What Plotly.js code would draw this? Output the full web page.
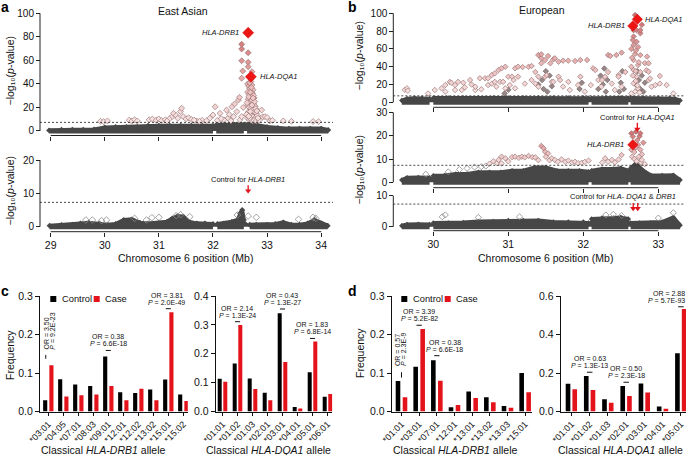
<!DOCTYPE html>
<html><head><meta charset="utf-8">
<script src="https://cdn.plot.ly/plotly-3.0.1.min.js"></script>
<style>html,body{margin:0;padding:0;background:#fff}#chart{width:689px;height:455px}</style>
</head><body><div id="chart"></div>
<script>
// ================= DATA =================
const THRESHOLD = 7.3; // genome-wide significance, -log10(5e-8)

// --- panel a (East Asian) ---
const aTopBandX = [28.97,29.2,29.4,29.6,29.8,30.0,30.2,30.4,30.6,30.8,31.0,31.2,31.4,31.6,31.8,32.0,32.03,32.06,32.2,32.4,32.57,32.6,32.63,32.8,33.0,33.2,33.4,33.6,33.8,34.0,34.13];
const aTopBandY = [0.5,1,1,1,1.2,3,3.4,3.4,3.4,4.5,4.5,4.5,4.5,4.5,4.5,4.5,null,5,5.4,5.4,5.4,null,5.4,5,3.4,2.5,2,2,2,2,0.8];
const aTopBandLow = [0,0,0,0,0,0,0,0,0,0,0,0,0,0,0,0,null,0,0,0,0,null,0,0,0,0,0,0,0,0,0];
const aTopPinkX = [29.92,29.98,30.05,30.45,30.5,30.55,30.6,30.82,30.88,30.95,31.0,31.05,31.12,31.2,31.25,31.27,31.32,31.35,31.4,31.42,31.45,31.5,31.55,31.6,31.7,31.8,31.94,32.0,32.04,32.13,32.2,32.25,32.28,32.35,32.38,32.4,32.44,32.47,32.49,32.5,32.53,32.53,32.53,32.53,32.53,32.55,32.56,32.65,32.65,32.65,32.72,
  32.64,32.66,32.68,32.7,32.72,32.74,32.64,32.67,32.7,32.73,32.76,32.65,32.69,32.72,32.75,32.78,32.64,32.67,32.7,32.73,32.76,32.8,32.65,32.68,32.71,32.74,32.78,32.82,32.64,32.67,32.7,32.73,32.76,32.8,
  32.85,32.9,32.92,32.96,33.0,33.05,33.1,33.3,33.45,33.85,33.95,
  32.63,32.66,32.69,32.71,32.75,32.77,32.79,32.81,32.83,32.62,32.66,32.69,32.72,32.74,32.68,32.7,31.15,31.65,31.75,31.88,32.08,32.15,32.3,32.33];
const aTopPinkY = [8.2,7.9,8.5,9.2,8.3,9.6,8.5,9.5,10.1,9.2,10.2,8.8,9.5,10.5,12.5,15,13.2,10.8,16.5,19.3,12.2,10.3,11.2,9.8,8.5,9,10.8,13.6,20.6,15,9.5,17.8,11,20.6,12.2,23,16.4,26.3,28.6,9.5,12.2,44.8,59.7,69.7,73.7,51,20,66.5,58.4,54.6,50.4,
  40,38,36,42,39,35,33,31,30,32,28,27,25,26,23,21,22,20,19,18,16,15,16,14,13,12,11,13,11,9.5,10,8.5,9,8.5,
  9,17.8,12,12.2,11.5,8.5,9,8.5,8.2,8,7.9,
  24,29,33,37,30,25,19,17,11,14,12.5,16.5,22,28,41,44,8.4,9.2,8.2,8.6,9,10.5,14,8.6];
const aTopHitX = [32.65,32.70];
const aTopHitY = [83.5,46.1];
const aTopHitGene = ['HLA-DRB1','HLA-DQA1'];

const aBotBandX = [28.98,29.2,29.4,29.55,29.7,29.9,30.05,30.2,30.35,30.5,30.65,30.8,31.0,31.15,31.25,31.35,31.45,31.55,31.7,31.85,32.0,32.04,32.08,32.2,32.35,32.45,32.5,32.54,32.57,32.61,32.68,32.8,33.0,33.15,33.3,33.45,33.6,33.75,33.88,34.0,34.12];
const aBotBandY = [0.3,0.5,0.6,1,1.2,1,0.6,0.8,2,2.2,1.2,1,1.2,1.5,2.5,3.2,3,1.5,1,1,0.8,null,0.8,1,1.5,2,4,5,2,null,0.6,0.6,0.6,0.8,1.3,0.6,0.6,1,2,1,0.3];
const aBotBandLow = [0,0,0,0,0,0,0,0,0,0,0,0,0,0,0,0,0,0,0,0,0,null,0,0,0,0,0,0,0,null,0,0,0,0,0,0,0,0,0,0,0];
const aBotOpenX = [29.65,29.77,29.94,30.03,30.55,30.77,30.87,31.0,31.32,31.4,31.57,32.45,32.65,32.8,33.58,33.85,33.9];
const aBotOpenY = [2,2,1.8,2,2.5,2,2.7,2.8,3.3,3.6,3,3.5,3.2,2.8,2.2,2.8,2.5];
const aBotControlX = [32.65];
const aBotControlText = 'Control for <i>HLA-DRB1</i>';

// --- panel b (European) ---
const bTopBandX = [29.58,29.65,29.75,29.85,29.95,29.98,30.0,30.2,30.4,30.6,30.8,31.0,31.2,31.4,31.6,31.8,32.0,32.07,32.09,32.11,32.3,32.5,32.6,32.615,32.63,32.8,33.0,33.15,33.22,33.29];
const bTopBandY = [2,4,4.5,4.5,4,null,5,5,5,5,5,5,5,5,5,5,5,4.5,null,4.5,5,5,4.5,null,5,5,4.5,4.5,4,2];
const bTopBandLow = [0,0,0,0,0,null,0,0,0,0,0,0,0,0,0,0,0,0,null,0,0,0,0,null,0,0,0,0,0,0];
const bTopPinkX = [29.62,29.65,29.66,29.93,30.02,30.11,30.16,30.16,30.22,30.24,30.29,30.29,30.33,30.38,30.4,30.42,30.49,30.51,30.56,30.56,30.62,30.64,30.69,30.73,30.73,30.78,30.78,30.82,30.82,30.84,30.87,30.89,30.91,30.93,30.96,30.96,31.0,31.02,31.05,31.07,31.09,31.09,31.13,31.13,31.19,31.22,31.27,31.31,31.31,31.36,31.36,31.4,31.4,31.4,31.44,31.44,31.44,31.49,31.49,31.51,31.53,31.56,31.58,31.6,31.62,31.6,31.67,31.67,31.69,31.73,31.73,31.8,31.8,31.82,31.89,31.93,31.96,31.96,32.02,32.05,32.1,32.13,32.16,32.2,32.24,32.25,32.29,32.33,32.33,32.36,32.38,32.42,32.44,32.47,32.47,32.51,32.51,32.56,
  32.69,32.67,32.71,32.76,32.67,32.71,32.67,32.69,32.76,32.67,32.73,32.67,32.71,32.67,32.73,32.69,32.64,32.64,32.66,32.7,32.72,32.64,32.75,32.78,32.76,32.7,32.73,32.66,32.74,32.7,32.65,
  32.76,32.82,32.85,32.87,32.84,32.87,32.87,32.89,32.91,32.96,33.02,33.02,33.11,33.2];
const bTopPinkY = [14,15.7,13,10,13.8,15.7,19.4,12,23,22,19.4,13.8,23,13.8,22,16.8,25,20,13.8,17.6,27,14.6,27,27,19.4,30.7,21,32.6,23,17.6,36.3,23,38.2,23,40,15.7,28.8,19.4,28.8,25,38.2,15.7,40,28.8,39.6,21,40,40.8,25,34,21,53.1,28.8,17.6,49.4,43.8,53.9,47.5,28.8,30.7,52,43.8,23,48.3,49.4,23,45.6,28.8,25,46.8,17.6,46.8,23,13.8,46.4,19.4,47.5,28.8,12,47.5,19.4,38.2,36.3,25,17.6,25,28.8,34,53.1,52,21,13.8,53.1,30.7,28.8,55.8,17.6,34,
  98,81,81,77.5,73.8,68,64.4,54.4,53,47.5,41.9,36.3,28.8,21.3,15.7,12,60,40,30,24,19,10,11,87,81,58,62,70,45,35,50,
  34,44,51.3,43.8,36,34.4,25,26.8,17.6,19.4,21,29.6,19.4,10];
const bTopDarkX = [30.95,31.0,31.4,31.45,31.47,31.5,31.52,31.55,31.58,31.95,31.98,32.2,32.23,32.26,32.28,32.3,32.32,32.48,32.5,32.52,32.54,32.7,32.72,32.74,32.76,32.78,32.8,32.82];
const bTopDarkY = [10,14,20,25,15,35,12,30,18,15,22,15,30,20,38,12,25,12,22,35,15,20,35,25,15,30,12,22];
const bTopHitX = [32.66,32.72];
const bTopHitY = [85.7,93.2];
const bTopHitGene = ['HLA-DRB1','HLA-DQA1'];

const bMidBandX = [29.58,29.65,29.8,29.95,29.98,30.0,30.15,30.3,30.45,30.6,30.75,30.9,31.05,31.2,31.35,31.5,31.65,31.8,31.95,32.07,32.09,32.11,32.25,32.4,32.5,32.6,32.615,32.63,32.7,32.8,32.9,33.05,33.2,33.29];
const bMidBandY = [1,2,2.1,2,null,2.8,2.9,3.6,3.6,4.3,4.3,4.3,5,5,6.4,6.4,5,5,5,4.5,null,5,5.7,5.7,6,5,null,6,8,5,3,2.9,3,1];
const bMidBandLow = [0,0,0,0,null,0,0,0,0,0,0,0,0,0,0,0,0,0,0,0,null,0,0,0,0,0,null,0,0,0,0,0,0,0];
const bMidPinkX = [30.75,30.8,30.85,30.87,30.91,30.91,30.96,31.0,31.05,31.09,31.14,31.18,31.22,31.27,31.32,31.36,31.4,31.44,31.47,31.49,31.5,31.53,31.55,31.58,31.62,31.66,31.71,31.76,31.8,31.85,31.89,31.93,31.98,32.02,32.07,32.25,32.29,32.33,32.38,32.42,32.47,32.51,
  32.64,32.66,32.7,32.72,32.75,32.76,32.64,32.68,32.7,32.73,32.76,32.78,32.65,32.68,32.71,32.74,32.77,32.78,32.82,32.8];
const bMidPinkY = [8,9,8.2,9.6,11,8.1,10.3,9,10.8,11,10.5,11,10.7,11.3,10.8,10.7,9.5,15.6,14.6,13.1,11,12.4,9.5,10.3,9.6,8.8,9.8,8.8,9.3,8.5,8.8,8.2,8.4,8.8,9.3,8.5,10.3,8.8,9.6,8.5,9.8,11.7,
  21,19.6,21.7,18.1,19.8,21,14,13,15,16,14,12,11,10,9,11,8.5,9.6,7.8,17];
const bMidOpenX = [29.9,30.2,30.35,30.45,30.55,30.64,30.7];
const bMidOpenY = [3.5,4.5,5.5,6,6.5,6.7,7];
const bMidHitX = [32.66];
const bMidHitY = [16.1];
const bMidHitGene = ['HLA-DRB1'];
const bMidControlX = [32.72];
const bMidControlText = 'Control for <i>HLA-DQA1</i>';

const bBotBandX = [29.58,29.65,29.8,29.95,29.98,30.0,30.2,30.4,30.6,30.8,31.0,31.2,31.4,31.6,31.8,32.0,32.07,32.09,32.11,32.25,32.4,32.5,32.6,32.615,32.63,32.75,32.9,33.05,33.2,33.29];
const bBotBandY = [0.3,0.7,0.8,0.7,null,1.2,1.2,1.4,1.7,1.7,2,2,2,1.5,1.5,1.5,1.2,null,2.5,2.8,2.8,3,2.5,null,1.2,1.2,1.2,1.5,3,0.5];
const bBotBandLow = [0,0,0,0,null,0,0,0,0,0,0,0,0,0,0,0,0,null,0,0,0,0,0,null,0,0,0,0,0,0];
const bBotOpenX = [30.12,30.16,30.6,31.15,32.3,32.4,32.51,33.0,33.2];
const bBotOpenY = [3.2,3.8,3,3.2,3.8,4,3.6,2.8,4.5];
const bBotControlX = [32.665,32.725];
const bBotControlText = 'Control for <i>HLA- DQA1</i> &amp; <i>DRB1</i>';

const aXTicks = [29,30,31,32,33,34];
const bXTicks = [30,31,32,33];

// --- panel c (East Asian alleles) ---
const cDrbCats = ['*03:01','*04:05','*07:01','*08:03','*09:01','*12:01','*12:02','*13:02','*15:01','*15:02'];
const cDrbControl = [0.029,0.084,0.070,0.066,0.143,0.050,0.048,0.057,0.083,0.044];
const cDrbCase = [0.120,0.039,0.042,0.044,0.066,0.029,0.059,0.029,0.258,0.027];
const cDqaCats = ['*01:01','*01:02','*01:03','*02:01','*03:01','*04:01','*05:01','*06:01'];
const cDqaControl = [0.113,0.166,0.114,0.065,0.340,0.016,0.136,0.051];
const cDqaCase = [0.103,0.300,0.078,0.039,0.171,0.010,0.242,0.061];
const cDrbOR = {'*03:01':['3.50','9.2E-23'],'*09:01':['0.38','6.6E-18'],'*15:01':['3.81','2.0E-49']};
const cDqaOR = {'*01:02':['2.14','1.3E-24'],'*03:01':['0.43','1.3E-27'],'*05:01':['1.83','6.8E-14']};

// --- panel d (European alleles) ---
const dDrbCats = ['*01:01','*03:01','*07:01','*12:01','*13:01','*13:02','*13:03','*15:01'];
const dDrbControl = [0.079,0.116,0.133,0.011,0.052,0.037,0.014,0.100];
const dDrbCase = [0.037,0.214,0.080,0.017,0.035,0.024,0.010,0.050];
const dDqaCats = ['*01:01','*01:02','*01:03','*02:01','*03:01','*04:01','*05:01'];
const dDqaControl = [0.144,0.185,0.064,0.133,0.145,0.026,0.303];
const dDqaCase = [0.116,0.112,0.045,0.081,0.099,0.014,0.533];
const dDrbOR = {'*01:01':['0.57','2.3E-9'],'*03:01':['3.39','5.2E-82'],'*07:01':['0.38','6.6E-18']};
const dDqaOR = {'*01:02':['0.63','1.3E-13'],'*02:01':['0.50','2.3E-18'],'*05:01':['2.88','5.7E-93']};

// ================= STYLE / LAYOUT =================
const W = 689, H = 455;
const fx = p => p / W;
const fy = p => 1 - p / H;
const FONT = 'Liberation Sans, Arial, Helvetica, DejaVu Sans, sans-serif';
const TXT = '#111';
const DARK = '#474747';
const RED = '#e3121b';
const PINK = [[0,'#f7e6e6'],[0.35,'#ecc0c0'],[1,'#cf6b6b']];

const traces = [];
const shapes = [];
const annotations = [];
const layout = {
  width: W, height: H, margin: {l:0, r:0, t:0, b:0},
  paper_bgcolor: '#fff', plot_bgcolor: 'rgba(0,0,0,0)',
  showlegend: false, barmode: 'overlay',
  font: {family: FONT, size: 10, color: TXT},
  shapes, annotations
};

function axName(n, c) { return n === 1 ? c : c + n; }
function axKey(n, c) { return n === 1 ? c + 'axis' : c + 'axis' + n; }

function note(text, px, py, o) {
  return Object.assign({xref:'paper', yref:'paper', x: fx(px), y: fy(py), text, showarrow:false,
    font:{family:FONT, size:10, color:TXT}, xanchor:'center', yanchor:'middle'}, o || {});
}

// Manhattan panel
function manhattan(n, cfg, d) {
  const xa = axName(n,'x'), ya = axName(n,'y');
  const ppu = (cfg.yDom[0] - cfg.yDom[1]) / (cfg.yRange[1] - cfg.yRange[0]); // px per y unit
  layout[axKey(n,'x')] = {domain:[fx(cfg.xDom[0]), fx(cfg.xDom[1])], range: cfg.xRange, anchor:'free',
    position: fy(cfg.xLinePy), showline:false, showgrid:false, zeroline:false, ticks:'outside', ticklen:4,
    tickwidth:1, tickcolor:'#222', tickvals: cfg.xTicks, showticklabels: cfg.xLabels, tickfont:{size:10.5}};
  layout[axKey(n,'y')] = {domain:[fy(cfg.yDom[0]), fy(cfg.yDom[1])], range: cfg.yRange, anchor:'free',
    position: fx(cfg.yLinePx), showline:false, showgrid:false, zeroline:false, ticks:'outside', ticklen:4,
    tickwidth:1, tickcolor:'#222', tickvals: cfg.yTicks, tickfont:{size:10}};
  const xt = cfg.xTicks, yt = cfg.yTicks;
  shapes.push({type:'line', xref: xa, yref:'paper', x0: xt[0], x1: xt[xt.length-1], y0: fy(cfg.xLinePy), y1: fy(cfg.xLinePy), line:{color:'#222', width:1}});
  shapes.push({type:'line', xref:'paper', yref: ya, x0: fx(cfg.yLinePx), x1: fx(cfg.yLinePx), y0: yt[0], y1: yt[yt.length-1], line:{color:'#222', width:1}});
  shapes.push({type:'line', xref:'paper', yref: ya, x0: fx(cfg.threshPx[0]), x1: fx(cfg.threshPx[1]), y0: THRESHOLD, y1: THRESHOLD, line:{color:'#333', width:0.9, dash:'2px,2px'}, layer:'above'});
  // dense band of non-significant SNPs: floor + filled envelope
  traces.push({type:'scatter', mode:'lines', x: d.bandX, y: d.bandLow, xaxis: xa, yaxis: ya,
    line:{color: DARK, width: 5}, connectgaps:false, hoverinfo:'skip'});
  traces.push({type:'scatter', mode:'lines+markers', x: d.bandX, y: d.bandY, xaxis: xa, yaxis: ya,
    fill:'tozeroy', fillcolor: DARK, line:{color: DARK, width: 4}, connectgaps:false,
    marker:{symbol:'diamond', size: cfg.ms, color: DARK}, hoverinfo:'skip'});
  if (d.openX) traces.push({type:'scatter', mode:'markers', x: d.openX, y: d.openY, xaxis: xa, yaxis: ya,
    marker:{symbol:'diamond-open', size: cfg.ms + 0.5, color:'#8a8a8a', line:{width:0.8}}, hoverinfo:'skip'});
  if (d.darkX) traces.push({type:'scatter', mode:'markers', x: d.darkX, y: d.darkY, xaxis: xa, yaxis: ya,
    marker:{symbol:'diamond', size: cfg.ms, color:'#9a8888', line:{color:'#5a5050', width:0.6}}, hoverinfo:'skip'});
  if (d.pinkX) traces.push({type:'scatter', mode:'markers', x: d.pinkX, y: d.pinkY, xaxis: xa, yaxis: ya,
    marker:{symbol:'diamond', size: cfg.ms, color: d.pinkY, colorscale: PINK, cmin: THRESHOLD, cmax: cfg.cmax,
      line:{color:'#8e6767', width:0.6}}, hoverinfo:'skip'});
  if (d.hitX) {
    traces.push({type:'scatter', mode:'markers', x: d.hitX, y: d.hitY, xaxis: xa, yaxis: ya,
      marker:{symbol:'diamond', size: cfg.hitSize, color:'#ee1515', line:{color:'#d10d0d', width:0.5}}, hoverinfo:'skip'});
    d.hitGene.forEach((g, i) => {
      const side = cfg.hitSide[i];
      annotations.push({xref: xa, yref: ya, x: d.hitX[i], y: d.hitY[i], text: '<i>' + g + '</i>', showarrow:false,
        xanchor: side < 0 ? 'right' : 'left', yanchor:'middle', xshift: side, font:{family:FONT, size:7.5, color:TXT}});
    });
  }
  if (d.ctrlX) {
    // red arrows: stem (shape) + head (triangle marker)
    const headY = cfg.arrowTip + 2.5 / ppu;
    const topY = cfg.arrowTip + cfg.arrowLen / ppu;
    d.ctrlX.forEach(x => shapes.push({type:'line', xref: xa, yref: ya, x0: x, x1: x, y0: headY, y1: topY,
      line:{color: RED, width:1.3}}));
    traces.push({type:'scatter', mode:'markers', x: d.ctrlX, y: d.ctrlX.map(() => headY), xaxis: xa, yaxis: ya,
      marker:{symbol:'triangle-down', size:5.5, color: RED, line:{width:0}}, hoverinfo:'skip'});
    annotations.push(note(d.ctrlText, cfg.ctrlPx[0], cfg.ctrlPx[1], {xanchor: cfg.ctrlAnchor || 'center', font:{family:FONT, size:7.5, color:TXT}}));
  }
}

manhattan(1, {xDom:[45.3,332], xRange:[28.9,34.2], yDom:[134.5,9.8], yRange:[-3,103], xLinePy:135.5, yLinePx:40,
  xTicks:aXTicks, xLabels:false, yTicks:[0,20,40,60,80,100], threshPx:[40,333], ms:4.6, cmax:85, hitSize:8.5, hitSide:[-7,7]},
  {bandX:aTopBandX, bandY:aTopBandY, bandLow:aTopBandLow, pinkX:aTopPinkX, pinkY:aTopPinkY, hitX:aTopHitX, hitY:aTopHitY, hitGene:aTopHitGene});
manhattan(2, {xDom:[45.3,332], xRange:[28.9,34.2], yDom:[231.7,156.7], yRange:[-1.5,21], xLinePy:231.7, yLinePx:40,
  xTicks:aXTicks, xLabels:true, yTicks:[0,10,20], threshPx:[40,333], ms:4.6, cmax:20, arrowTip:10, arrowLen:8, ctrlPx:[248.3,179.3]},
  {bandX:aBotBandX, bandY:aBotBandY, bandLow:aBotBandLow, openX:aBotOpenX, openY:aBotOpenY, ctrlX:aBotControlX, ctrlText:aBotControlText});
manhattan(3, {xDom:[395.8,684.6], xRange:[29.5,33.35], yDom:[105.9,9.7], yRange:[-4,104], xLinePy:107.3, yLinePx:393.3,
  xTicks:bXTicks, xLabels:false, yTicks:[0,20,40,60,80,100], threshPx:[393.3,685], ms:4.2, cmax:95, hitSize:8, hitSide:[-6,6]},
  {bandX:bTopBandX, bandY:bTopBandY, bandLow:bTopBandLow, pinkX:bTopPinkX, pinkY:bTopPinkY, darkX:bTopDarkX, darkY:bTopDarkY, hitX:bTopHitX, hitY:bTopHitY, hitGene:bTopHitGene});
manhattan(4, {xDom:[395.8,684.6], xRange:[29.5,33.35], yDom:[187,107.7], yRange:[-2,32], xLinePy:187.7, yLinePx:393.3,
  xTicks:bXTicks, xLabels:false, yTicks:[0,10,20,30], threshPx:[393.3,685], ms:4.2, cmax:22, hitSize:8, hitSide:[-7],
  arrowTip:21.7, arrowLen:9, ctrlPx:[637.7,117.3]},
  {bandX:bMidBandX, bandY:bMidBandY, bandLow:bMidBandLow, pinkX:bMidPinkX, pinkY:bMidPinkY, openX:bMidOpenX, openY:bMidOpenY, hitX:bMidHitX, hitY:bMidHitY, hitGene:bMidHitGene, ctrlX:bMidControlX, ctrlText:bMidControlText});
manhattan(5, {xDom:[395.8,684.6], xRange:[29.5,33.35], yDom:[231.4,192.6], yRange:[-1.5,11], xLinePy:230.7, yLinePx:393.3,
  xTicks:bXTicks, xLabels:true, yTicks:[0,10], threshPx:[393.3,685], ms:4.2, cmax:10, arrowTip:5.1, arrowLen:8,
  ctrlPx:[678,196.7], ctrlAnchor:'right'},
  {bandX:bBotBandX, bandY:bBotBandY, bandLow:bBotBandLow, openX:bBotOpenX, openY:bBotOpenY, ctrlX:bBotControlX, ctrlText:bBotControlText});

// Bar panels
function bars(n, cfg, cats, control, kase, orMap) {
  const xa = axName(n,'x'), ya = axName(n,'y');
  layout[axKey(n,'x')] = {domain:[fx(cfg.xDom[0]), fx(cfg.xDom[1])], range: cfg.xRange, type:'category',
    categoryorder:'array', categoryarray: cats, anchor: ya, showline:true, linecolor:'#111', linewidth:1,
    ticks:'outside', ticklen:3, tickcolor:'#111', tickangle:-45, tickfont:{size:9}, showgrid:false, zeroline:false};
  layout[axKey(n,'y')] = {domain:[fy(411.5), fy(296)], range: cfg.yRange, anchor: xa, showline:true, linecolor:'#111',
    linewidth:1, ticks:'outside', ticklen:4, tickcolor:'#111', tickvals: cfg.yTicks, tickformat:'.1f',
    tickfont:{size:10.5}, showgrid:false, zeroline:false};
  traces.push({type:'bar', x: cats, y: control, xaxis: xa, yaxis: ya, width: cfg.w, offset: cfg.off[0],
    marker:{color:'#000', line:{width:0}}, hoverinfo:'skip', name:'Control'});
  traces.push({type:'bar', x: cats, y: kase, xaxis: xa, yaxis: ya, width: cfg.w, offset: cfg.off[1],
    marker:{color: RED, line:{width:0}}, hoverinfo:'skip', name:'Case'});
  const f7 = {family:FONT, size:7, color:TXT};
  cfg.notes.forEach(nt => {
    const vals = orMap[nt.cat];
    const idx = cats.indexOf(nt.cat);
    if (nt.rot) {
      annotations.push({xref: xa, yref: ya, x: nt.cat, y: nt.level, xshift: nt.dx[0], text: 'OR = ' + vals[0],
        textangle:-90, showarrow:false, xanchor:'center', yanchor:'bottom', font:f7});
      annotations.push({xref: xa, yref: ya, x: nt.cat, y: nt.level, xshift: nt.dx[1], text: '<i>P</i> = ' + vals[1],
        textangle:-90, showarrow:false, xanchor:'center', yanchor:'bottom', font:f7});
      shapes.push({type:'line', xref: xa, yref: ya, x0: idx + nt.bx, x1: idx + nt.bx, y0: nt.br[0], y1: nt.br[1], line:{color:'#111', width:1}});
    } else {
      const anchor = nt.anchor || 'center';
      annotations.push({xref: xa, yref: ya, x: nt.cat, y: nt.level, xshift: nt.dx || 0, yshift: 13.5,
        text: 'OR = ' + vals[0], showarrow:false, xanchor: anchor, yanchor:'middle', font:f7});
      annotations.push({xref: xa, yref: ya, x: nt.cat, y: nt.level, xshift: nt.dx || 0, yshift: 6.5,
        text: '<i>P</i> = ' + vals[1], showarrow:false, xanchor: anchor, yanchor:'middle', font:f7});
      shapes.push({type:'line', xref: xa, yref: ya, x0: idx - cfg.bw, x1: idx + cfg.bw, y0: nt.level, y1: nt.level, line:{color:'#111', width:1}});
    }
  });
}

bars(6, {xDom:[40,187.8], xRange:[-0.553,9.3], yRange:[0,0.3], yTicks:[0,0.1,0.2,0.3], w:0.275, off:[-0.345,0.07], bw:0.17,
  notes:[{cat:'*03:01', rot:true, level:0.155, dx:[-1.6,4], bx:-0.17, br:[0.137,0.147]},
         {cat:'*09:01', level:0.1586}, {cat:'*15:01', level:0.267, dx:-1.6}]},
  cDrbCats, cDrbControl, cDrbCase, cDrbOR);
bars(7, {xDom:[215.7,332.3], xRange:[-0.453,7.32], yRange:[0,0.4], yTicks:[0,0.1,0.2,0.3,0.4], w:0.267, off:[-0.32,0.053], bw:0.17,
  notes:[{cat:'*01:02', level:0.311}, {cat:'*03:01', level:0.355}, {cat:'*05:01', level:0.253}]},
  cDqaCats, cDqaControl, cDqaCase, cDqaOR);
bars(8, {xDom:[391.7,531.7], xRange:[-0.555,7.37], yRange:[0,0.3], yTicks:[0,0.1,0.2,0.3], w:0.26, off:[-0.328,0.068], bw:0.15,
  notes:[{cat:'*01:01', rot:true, level:0.112, dx:[-3.8,2.5], bx:0, br:[0.088,0.102]},
         {cat:'*03:01', level:0.224}, {cat:'*07:01', level:0.145, dx:8}]},
  dDrbCats, dDrbControl, dDrbCase, dDrbOR);
bars(9, {xDom:[560.7,686], xRange:[-0.592,6.28], yRange:[0,0.6], yTicks:[0,0.2,0.4,0.6], w:0.255, off:[-0.318,0.05], bw:0.15,
  notes:[{cat:'*01:02', level:0.204}, {cat:'*02:01', level:0.152}, {cat:'*05:01', level:0.544, dx:6, anchor:'right'}]},
  dDqaCats, dDqaControl, dDqaCase, dDqaOR);

// Legends (manual)
function legendAt(px, py) {
  [['#000','Control',0],[RED,'Case',43.4]].forEach(([c, t, off]) => {
    shapes.push({type:'rect', xref:'paper', yref:'paper', x0: fx(px + off - 3), x1: fx(px + off + 3),
      y0: fy(py + 3), y1: fy(py - 3), fillcolor: c, line:{width:0}});
    annotations.push(note(t, px + off + 6.5, py, {xanchor:'left', font:{family:FONT, size:9.3, color:TXT}}));
  });
}
legendAt(53.3, 299);
legendAt(404.3, 299);

// Titles, panel letters, axis titles
const bold = {family:FONT, size:14, color:'#000'};
annotations.push(note('<b>a</b>', 5, 7, {font:bold}));
annotations.push(note('<b>b</b>', 352, 7, {font:bold}));
annotations.push(note('<b>c</b>', 5, 291, {font:bold}));
annotations.push(note('<b>d</b>', 352, 291, {font:bold}));
annotations.push(note('East Asian', 183, 10.5, {font:{family:FONT, size:10.5, color:TXT}}));
annotations.push(note('European', 542, 10, {font:{family:FONT, size:10.5, color:TXT}}));
const ylab = '\u2212log\u2081\u2080(<i>p</i>-value)';
const f10 = {family:FONT, size:10.5, color:TXT};
annotations.push(note(ylab, 9.5, 71, {textangle:-90, font:f10}));
annotations.push(note(ylab, 9.5, 191, {textangle:-90, font:f10}));
annotations.push(note(ylab, 358.5, 56, {textangle:-90, font:f10}));
annotations.push(note(ylab, 358.5, 170, {textangle:-90, font:f10}));
annotations.push(note('Chromosome 6 position (Mb)', 185.5, 257.7, {font:f10}));
annotations.push(note('Chromosome 6 position (Mb)', 545, 257.7, {font:f10}));
annotations.push(note('Frequency', 10, 355, {textangle:-90, font:f10}));
annotations.push(note('Frequency', 360, 353, {textangle:-90, font:f10}));
annotations.push(note('Classical <i>HLA-DRB1</i> allele', 103.3, 449.5, {font:f10}));
annotations.push(note('Classical <i>HLA-DQA1</i> allele', 268.3, 449.5, {font:f10}));
annotations.push(note('Classical <i>HLA-DRB1</i> allele', 455, 449.5, {font:f10}));
annotations.push(note('Classical <i>HLA-DQA1</i> allele', 620, 449.5, {font:f10}));

Plotly.newPlot('chart', traces, layout, {staticPlot:true, displayModeBar:false});
</script>
</body></html>
